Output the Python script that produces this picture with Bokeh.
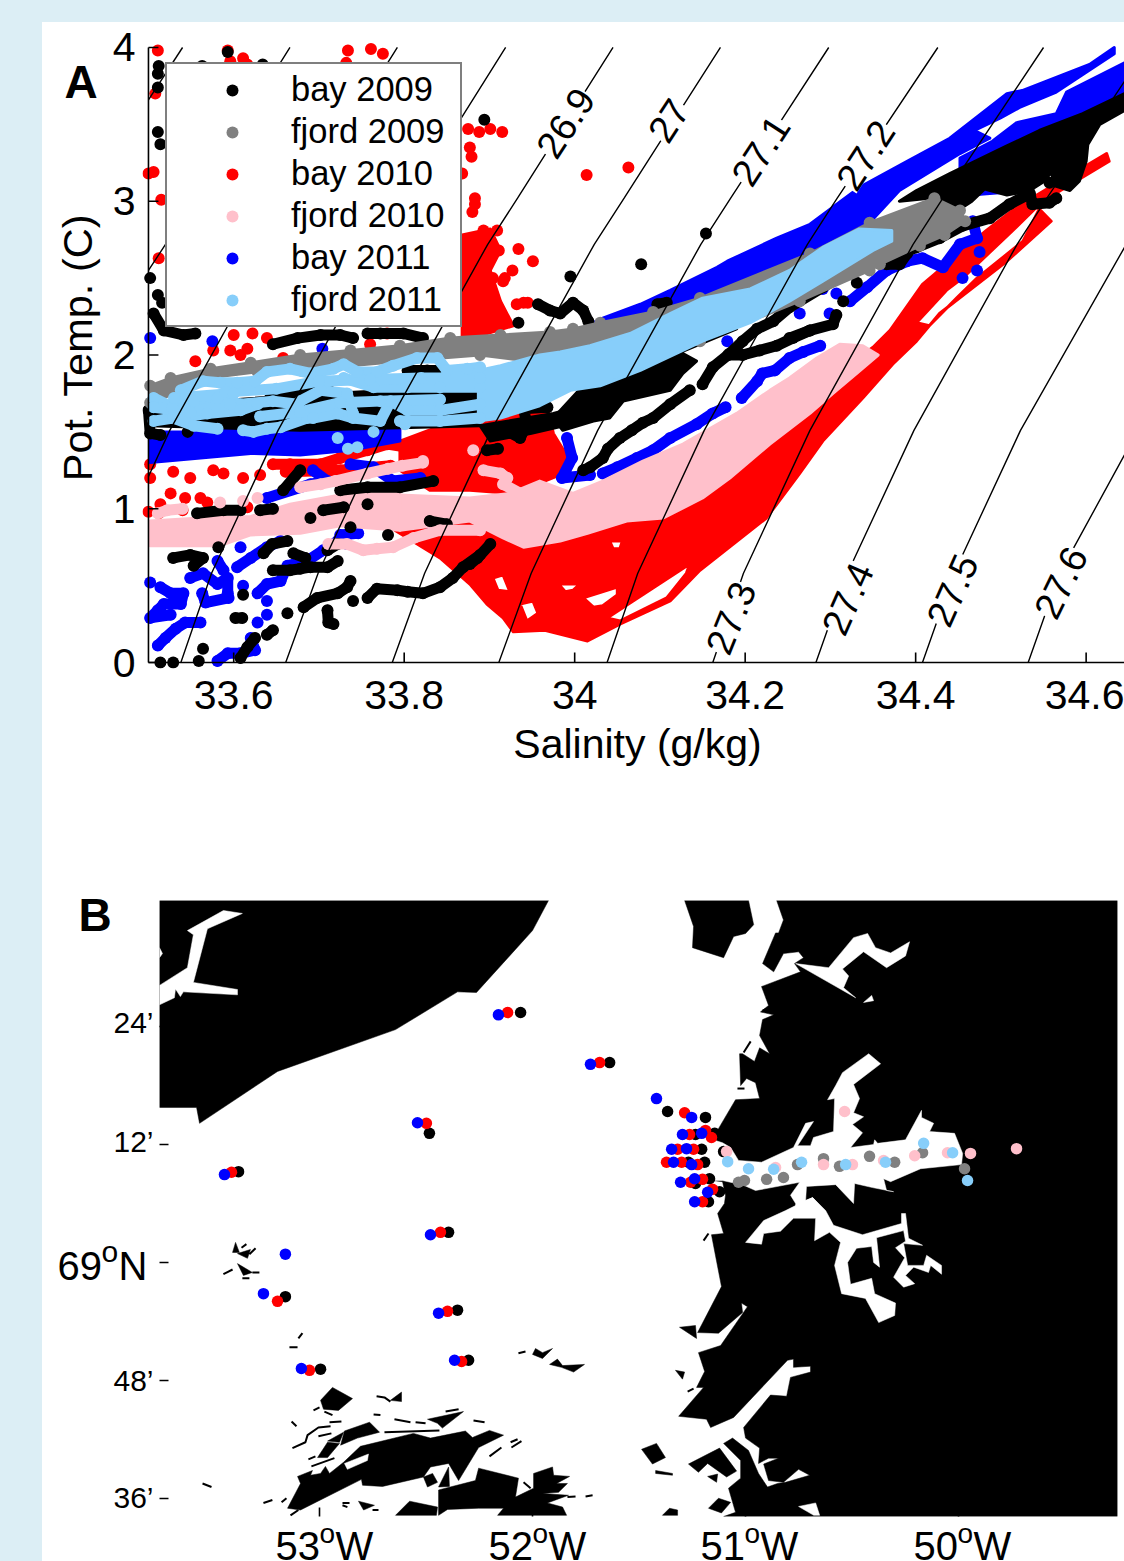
from bokeh.plotting import figure
from bokeh.models import Label, Legend, LegendItem, FixedTicker, Div
from bokeh.embed import file_html
from bokeh.resources import INLINE

# ---------- Panel A: temperature-salinity data ----------
series_names = ["bay 2009", "fjord 2009", "bay 2010", "fjord 2010", "bay 2011", "fjord 2011"]
salinity_ticks = [33.6, 33.8, 34.0, 34.2, 34.4, 34.6]
salinity_tick_labels = ["33.6", "33.8", "34", "34.2", "34.4", "34.6"]
temperature_ticks = [0, 1, 2, 3, 4]

# filled bands where the casts overlap completely
bay09_bands = [
    [(34.645,3.70),(34.596,3.57),(34.545,3.46),(34.507,3.36),(34.44,3.18),(34.401,3.07),(34.381,3.00),(34.416,3.02),(34.452,2.95),(34.466,3.00),(34.481,3.08),(34.507,3.04),(34.534,3.07),(34.551,3.13),(34.559,3.19),(34.563,3.10),(34.581,3.07),(34.592,3.13),(34.60,3.26),(34.602,3.37),(34.616,3.50),(34.645,3.59)],
    [(34.19,2.17),(34.127,2.07),(34.12,2.03),(34.143,1.96),(34.127,1.88),(34.112,1.77),(34.057,1.70),(34.041,1.59),(34.022,1.57),(33.986,1.51),(33.975,1.59),(34.015,1.83),(34.073,1.90)],
    [(33.502,1.67),(33.678,1.74),(33.889,1.80),(33.889,1.54),(33.678,1.51),(33.502,1.54)],
    [(33.889,1.54),(33.975,1.62),(34.03,1.70),(34.041,1.62),(33.995,1.55),(33.948,1.49),(33.901,1.44)],
]
bay09_tracks = [
    [(34.565,3.02),(34.557,2.99),(34.537,2.98),(34.534,3.05),(34.51,2.98),(34.487,2.89),(34.455,2.84),(34.428,2.76),(34.401,2.70),(34.37,2.63),(34.331,2.59),(34.291,2.44),(34.252,2.31),(34.233,2.22),(34.214,2.17),(34.197,2.09),(34.182,2.01),(34.162,1.92),(34.15,1.81)],
    [(34.366,2.59),(34.381,2.59),(34.39,2.66)],
    [(34.252,2.11),(34.276,2.16),(34.303,2.20),(34.307,2.26)],
    [(34.276,2.16),(34.256,2.11),(34.237,2.06),(34.217,2.03),(34.197,2.0),(34.18,2.0)],
    [(34.135,1.77),(34.112,1.68),(34.092,1.59),(34.08,1.56),(34.067,1.51),(34.053,1.46),(34.039,1.39),(34.033,1.33),(34.018,1.27),(34.01,1.25)],
    [(33.913,1.53),(33.936,1.46),(33.944,1.55),(33.94,1.65),(33.968,1.66)],
    [(33.897,1.38),(33.91,1.39)],
    [(33.94,1.90),(33.971,1.94),(33.986,1.98)],
    [(33.957,2.33),(33.971,2.29),(33.983,2.27),(33.998,2.34),(34.01,2.29),(34.016,2.22)],
    [(34.097,2.33),(34.108,2.34)],
    [(33.901,.77),(33.886,.68),(33.877,.64)],
    [(33.506,2.27),(33.518,2.16),(33.541,2.13),(33.555,2.14)],
    [(33.646,2.07),(33.675,2.11),(33.702,2.13),(33.725,2.13),(33.74,2.11)],
    [(33.757,2.14),(33.772,2.14),(33.799,2.14),(33.822,2.11)],
    [(33.50,1.64),(33.502,1.49),(33.514,1.48)],
    [(33.643,1.75),(33.675,1.77),(33.71,1.79)],
    [(33.804,1.90),(33.827,1.90),(33.842,1.90)],
    [(33.799,1.74),(33.842,1.72),(33.889,1.72)],
    [(33.678,1.25),(33.658,1.12)],
    [(33.725,1.12),(33.757,1.14),(33.795,1.14),(33.834,1.18)],
    [(33.557,.97),(33.588,.99),(33.608,.99)],
    [(33.631,.99),(33.646,1.0)],
    [(33.705,.99),(33.729,1.01)],
    [(33.83,.92),(33.85,.90)],
    [(33.529,.68),(33.549,.70),(33.564,.68),(33.553,.63)],
    [(33.635,.71),(33.645,.77),(33.663,.79)],
    [(33.67,.71),(33.684,.68)],
    [(33.71,.73),(33.722,.77)],
    [(33.722,.66),(33.71,.62),(33.69,.62),(33.678,.61),(33.666,.60),(33.646,.60)],
    [(33.602,.29),(33.61,.29)],
    [(33.682,.36),(33.698,.42),(33.722,.45),(33.733,.49),(33.737,.53)],
    [(33.71,.34),(33.711,.26),(33.717,.25)],
    [(33.757,.42),(33.768,.48),(33.792,.47),(33.804,.46),(33.822,.45),(33.842,.49),(33.857,.55),(33.869,.62),(33.889,.70)],
    [(33.646,.21),(33.639,.18)],
    [(33.625,.16),(33.616,.10),(33.608,.03)],
]
bay09_dots = [(34.331,2.47),(34.315,2.35),(34.557,3.12),(33.934,2.21),(33.995,2.51),(34.078,2.59),(34.154,2.79),(33.546,1.50),(33.628,1.59),(33.69,.94),(33.737,.88),(33.757,1.03),(33.582,.75),(33.611,.44),(33.663,.32),(33.74,.40),(33.564,.09),(33.559,.01),(33.529,0.0),(33.514,0.0),(33.781,.83),(33.593,3.97),(33.512,3.88),(33.511,3.83),(33.511,3.74),(33.563,3.88),(33.634,3.89),(33.511,3.45),(33.514,3.37),(33.502,2.50),(33.511,2.39),(33.516,2.34),(33.894,3.53)]

fjord09_bands = [
    [(33.502,1.80),(33.526,1.85),(33.573,1.91),(33.62,1.95),(33.678,2.0),(33.737,2.03),(33.795,2.06),(33.854,2.11),(33.913,2.13),(33.971,2.15),(33.998,2.17),(34.03,2.21),(34.092,2.28),(34.147,2.37),(34.276,2.66),(34.346,2.86),(34.422,3.02),(34.452,2.94),(34.458,2.87),(34.434,2.78),(34.405,2.71),(34.358,2.59),(34.346,2.55),(34.264,2.35),(34.147,2.09),(34.03,1.95),(33.959,1.95),(33.889,2.0),(33.795,1.96),(33.737,1.93),(33.678,1.90),(33.628,1.89),(33.569,1.85),(33.541,1.77),(33.502,1.69)],
]

bay10_outline = [(33.789,.86),(33.842,.68),(33.877,.51),(33.897,.38),(33.916,.29),(33.928,.20),(33.965,.21),(34.015,.14),(34.053,.25),(34.112,.40),(34.147,.60),(34.225,.94),(34.264,1.23),(34.291,1.44),(34.338,1.72),(34.373,1.94),(34.401,2.09),(34.428,2.27),(34.507,2.61),(34.559,2.87),(34.545,2.95),(34.526,2.74),(34.472,2.50),(34.448,2.37),(34.416,2.19),(34.401,2.21),(34.436,2.42),(34.455,2.50),(34.514,2.81),(34.549,3.0),(34.627,3.26),(34.624,3.31),(34.518,2.96),(34.483,2.81),(34.408,2.46),(34.37,2.16),(34.35,2.05),(34.288,1.80),(34.217,1.51),(34.147,1.18),(34.03,.92),(33.913,.92),(33.795,.99)]
bay10_holes = [
    [(33.981,.51),(34.006,.51),(33.998,.47),(33.989,.46)],
    [(34.01,.42),(34.05,.49),(34.05,.44),(34.033,.37),(34.022,.36)],
    [(34.038,.29),(34.135,.64),(34.131,.58),(34.108,.42),(34.053,.27)],
    [(34.041,.79),(34.056,.79),(34.053,.74),(34.045,.74)],
    [(33.936,.38),(33.951,.40),(33.957,.32),(33.944,.27)],
    [(33.904,.55),(33.916,.57),(33.924,.46),(33.91,.47)],
]
bay10_bands = [
    [(33.795,1.44),(33.877,1.61),(33.909,1.61),(33.968,1.66),(33.975,1.49),(33.997,1.29),(33.983,1.22),(33.956,1.16),(33.924,1.10),(33.877,1.12),(33.83,1.12),(33.795,1.25)],
    [(33.868,2.78),(33.901,2.82),(33.913,2.68),(33.901,2.55),(33.913,2.35),(33.928,2.19),(33.868,2.09)],
]
bay10_tracks = [
    [(33.646,1.29),(33.666,1.29),(33.702,1.29),(33.725,1.33),(33.757,1.38),(33.78,1.42),(33.804,1.40),(33.842,1.42),(33.881,1.49)],
    [(33.661,1.24),(33.725,1.25),(33.784,1.28)],
]
bay10_dots = [(33.511,3.98),(33.508,3.70),(33.50,3.18),(33.506,3.19),(33.515,3.01),(33.512,2.63),(33.593,3.98),(33.596,3.91),(33.611,3.93),(33.616,3.89),(33.734,3.98),(33.761,3.99),(33.775,3.96),(33.732,3.90),(33.875,3.47),(33.888,3.45),(33.901,3.47),(33.915,3.45),(33.877,3.35),(33.879,3.29),(33.868,3.18),(33.883,3.02),(33.883,2.98),(33.88,2.93),(33.911,2.68),(33.934,2.69),(33.951,2.61),(33.927,2.55),(33.904,2.50),(33.918,2.50),(33.94,2.34),(33.932,2.33),(33.945,2.34),(34.014,3.17),(34.063,3.22),(33.893,2.81),(33.909,2.81),(33.916,2.48),(33.502,1.29),(33.502,1.20),(33.529,1.24),(33.549,1.20),(33.576,1.25),(33.588,1.23),(33.611,1.20),(33.631,1.22),(33.526,1.10),(33.543,1.07),(33.561,1.07),(33.569,1.04),(33.50,.98),(33.514,1.03),(33.512,.97),(33.54,.99),(33.616,1.01),(33.555,1.96),(33.576,2.03),(33.596,2.03),(33.616,2.04),(33.608,2.0),(33.60,2.13),(33.658,1.98),(33.622,2.14),(33.639,2.11),(33.76,2.07),(33.78,2.14)]

fjord10_bands = [
    [(34.356,2.0),(34.338,2.06),(34.311,2.07),(34.284,1.98),(34.252,1.85),(34.229,1.77),(34.19,1.62),(34.127,1.42),(34.08,1.31),(34.033,1.18),(33.998,1.10),(33.959,1.18),(33.924,1.10),(33.877,1.07),(33.795,1.09),(33.795,.86),(33.877,.92),(33.916,.81),(33.94,.75),(33.983,.79),(34.015,.84),(34.061,.92),(34.104,.94),(34.15,1.07),(34.182,1.20),(34.229,1.42),(34.276,1.62),(34.303,1.75),(34.335,1.90)],
    [(33.502,.92),(33.561,.94),(33.62,.95),(33.666,1.03),(33.725,1.09),(33.795,1.12),(33.795,.86),(33.725,.89),(33.678,.84),(33.62,.83),(33.584,.76),(33.502,.76)],
]
fjord10_tracks = [
    [(33.678,1.14),(33.702,1.16),(33.719,1.18),(33.757,1.23),(33.781,1.26),(33.798,1.28),(33.822,1.30)],
    [(33.511,.97),(33.522,.99),(33.54,1.0)],
    [(33.711,.77),(33.733,.77),(33.752,.73),(33.768,.74),(33.787,.75),(33.811,.81),(33.842,.86),(33.889,.86)],
    [(33.893,1.25),(33.913,1.23),(33.921,1.20),(33.916,1.16),(33.936,1.10)],
]
fjord10_dots = [(33.881,1.38),(33.822,1.31),(33.584,1.04),(33.611,1.05),(33.628,1.07)]

bay11_bands = [
    [(33.502,1.50),(33.549,1.50),(33.608,1.54),(33.666,1.54),(33.713,1.57),(33.76,1.54),(33.786,1.54),(33.795,1.51),(33.795,1.44),(33.737,1.38),(33.678,1.35),(33.62,1.36),(33.561,1.33),(33.502,1.30)],
    [(34.003,2.16),(34.033,2.24),(34.077,2.33),(34.112,2.42),(34.167,2.57),(34.179,2.61),(34.237,2.76),(34.276,2.85),(34.334,3.09),(34.39,3.26),(34.44,3.41),(34.507,3.70),(34.525,3.72),(34.604,3.89),(34.633,4.0),(34.633,3.96),(34.565,3.71),(34.522,3.61),(34.499,3.54),(34.469,3.46),(34.487,3.41),(34.452,3.31),(34.428,3.23),(34.381,3.07),(34.346,2.86),(34.264,2.63),(34.147,2.35),(34.077,2.22),(34.003,2.09)],
    [(34.645,3.90),(34.577,3.71),(34.565,3.57),(34.518,3.51),(34.49,3.39),(34.452,3.28),(34.452,3.13),(34.545,3.33),(34.645,3.62)],
]
bay11_tracks = [
    [(34.033,1.23),(34.05,1.27),(34.073,1.33),(34.092,1.38),(34.112,1.46),(34.143,1.55),(34.162,1.62),(34.177,1.66)],
    [(34.196,1.72),(34.214,1.83),(34.22,1.88),(34.235,1.90),(34.252,1.98),(34.268,2.02),(34.288,2.06)],
    [(34.467,2.87),(34.472,2.76),(34.452,2.72),(34.432,2.57),(34.408,2.63),(34.39,2.61),(34.366,2.55),(34.343,2.44),(34.323,2.35)],
    [(33.511,.11),(33.52,.16),(33.532,.22),(33.543,.26),(33.561,.26)],
    [(33.514,.49),(33.526,.45),(33.541,.45),(33.538,.38),(33.518,.38),(33.511,.34),(33.502,.29),(33.526,.31)],
    [(33.549,.55),(33.564,.58),(33.581,.51),(33.593,.55),(33.593,.45),(33.594,.42),(33.567,.39),(33.563,.45)],
    [(33.581,.66),(33.588,.60)],
    [(33.604,.62),(33.62,.68),(33.639,.75),(33.655,.79)],
    [(33.628,.45),(33.639,.51),(33.655,.53),(33.663,.63),(33.686,.66),(33.705,.73),(33.722,.79),(33.733,.77)],
    [(33.581,.01),(33.593,.06),(33.608,.06),(33.625,.08),(33.62,.16)],
    [(33.725,.83),(33.746,.84)],
    [(33.804,.92),(33.827,.91)],
    [(33.639,1.07),(33.69,1.16),(33.71,1.18),(33.693,1.25)],
    [(33.737,1.29),(33.764,1.27),(33.787,1.18),(33.819,1.20)],
    [(33.991,1.46),(33.997,1.33),(33.985,1.20),(34.018,1.22)],
    [(34.472,3.07),(34.516,3.09),(34.54,3.17)],
]
bay11_dots = [(34.264,2.27),(34.299,2.27),(34.179,2.09),(34.331,2.55),(34.475,2.67),(34.472,2.55),(34.455,2.50),(34.303,2.50),(34.291,2.43),(34.307,2.40),(33.502,.52),(33.608,.75),(33.611,.50),(33.639,.40),(33.639,.31),(33.628,.26),(33.502,2.11),(33.575,2.09),(33.704,2.04)]

fjord11_bands = [
    [(34.372,2.81),(34.334,2.82),(34.291,2.70),(34.252,2.55),(34.206,2.43),(34.15,2.37),(34.112,2.27),(34.065,2.14),(34.018,2.06),(33.983,2.02),(33.959,2.0),(33.913,1.93),(33.887,1.90),(33.887,1.57),(33.913,1.59),(33.959,1.67),(33.995,1.77),(34.03,1.80),(34.077,1.90),(34.10,1.96),(34.15,2.09),(34.206,2.21),(34.252,2.35),(34.291,2.48),(34.35,2.68),(34.372,2.74)],
]
fjord11_tracks = [
    [(33.538,1.77),(33.564,1.83),(33.584,1.82),(33.604,1.82),(33.625,1.83),(33.639,1.89),(33.666,1.91),(33.69,1.88),(33.717,1.91),(33.729,1.94),(33.745,1.89),(33.768,1.89),(33.787,1.93),(33.815,1.98),(33.839,1.98),(33.85,1.90),(33.874,1.91),(33.889,1.92)],
    [(33.506,1.72),(33.528,1.66),(33.553,1.70),(33.581,1.72),(33.608,1.68),(33.646,1.70),(33.675,1.68)],
    [(33.506,1.57),(33.529,1.59),(33.569,1.62),(33.608,1.64),(33.628,1.68)],
    [(33.529,1.59),(33.553,1.54),(33.581,1.52)],
    [(33.611,1.51),(33.623,1.50),(33.639,1.52),(33.655,1.53),(33.686,1.59),(33.693,1.59),(33.722,1.62),(33.74,1.59),(33.772,1.57),(33.784,1.70),(33.804,1.64),(33.842,1.64),(33.889,1.68)],
    [(33.678,1.70),(33.702,1.77),(33.733,1.75),(33.74,1.62)],
    [(33.729,1.85),(33.764,1.79),(33.804,1.79),(33.842,1.79),(33.889,1.79)],
    [(33.506,1.66),(33.549,1.63),(33.596,1.68)],
    [(33.631,1.60),(33.678,1.63),(33.725,1.69),(33.772,1.70),(33.842,1.71)],
    [(33.795,1.57),(33.842,1.57),(33.889,1.59)],
    [(33.59,1.76),(33.65,1.78),(33.70,1.83),(33.76,1.84),(33.82,1.85),(33.889,1.85)],
    [(33.53,1.72),(33.60,1.75)],
]
fjord11_dots = [(33.722,1.46),(33.734,1.39),(33.745,1.40),(33.764,1.50),(33.801,1.55)]

# density contours: name, (salinity, temperature) vertices
contours = {
    "26.5": [(33.50,3.66),(33.54,4.0)],
    "26.6": [(33.50,2.55),(33.52,2.72),(33.555,3.02),(33.666,4.0)],
    "26.7": [(33.50,1.21),(33.525,1.51),(33.646,2.72),(33.681,3.02),(33.792,4.0)],
    "26.8": [(33.538,0),(33.574,.58),(33.652,1.51),(33.773,2.72),(33.808,3.02),(33.919,4.0)],
    "26.9": [(33.661,0),(33.699,.58),(33.777,1.51),(33.898,2.72),(33.933,3.02),(34.045,4.0)],
    "27":   [(33.786,0),(33.824,.58),(33.902,1.51),(34.023,2.72),(34.058,3.02),(34.171,4.0)],
    "27.1": [(33.911,0),(33.949,.58),(34.027,1.51),(34.148,2.72),(34.183,3.02),(34.298,4.0)],
    "27.2": [(34.038,0),(34.074,.58),(34.152,1.51),(34.273,2.72),(34.308,3.02),(34.426,4.0)],
    "27.3": [(34.162,0),(34.198,.58),(34.276,1.51),(34.397,2.72),(34.432,3.02),(34.55,4.0)],
    "27.4": [(34.283,0),(34.32,.58),(34.398,1.51),(34.519,2.72),(34.554,3.02),(34.645,3.78)],
    "27.5": [(34.408,0),(34.445,.58),(34.523,1.51),(34.645,2.70)],
    "27.6": [(34.532,0),(34.569,.58),(34.645,1.35)],
}
contour_labels = [("26.9",33.989,3.51,57),("27",34.11,3.525,57),("27.1",34.218,3.33,57),("27.2",34.341,3.30,57),("27.3",34.183,.29,68),("27.4",34.32,.415,66),("27.5",34.443,.47,66),("27.6",34.57,.52,64)]

# ---------- Panel B: coastline and stations (lon, lat) ----------
west_land = [(-53.751,69.614),(-51.925,69.614),(-52.0,69.563),(-52.263,69.458),(-52.352,69.459),(-52.643,69.395),(-53.197,69.324),(-53.563,69.236),(-53.577,69.263),(-53.751,69.263)]
north_island = [(-51.286,69.614),(-50.986,69.614),(-50.962,69.573),(-51.0,69.558),(-51.056,69.553),(-51.103,69.517),(-51.249,69.534),(-51.244,69.57)]
east_land = [(-50.854,69.614),(-49.254,69.614),(-49.254,68.569),(-51.103,68.569),(-51.047,68.576),(-51.08,68.617),(-51.023,68.634),(-51.023,68.664),(-51.103,68.693),(-51.061,68.702),(-50.986,68.681),(-50.939,68.642),(-50.897,68.619),(-50.85,68.625),(-50.812,68.627),(-50.699,68.639),(-50.751,68.649),(-50.822,68.627),(-50.892,68.63),(-50.915,68.658),(-50.845,68.668),(-50.892,68.668),(-50.939,68.659),(-50.934,68.685),(-51.0,68.702),(-51.009,68.72),(-50.883,68.775),(-50.807,68.773),(-50.789,68.805),(-50.695,68.814),(-50.695,68.824),(-50.775,68.822),(-50.775,68.836),(-50.803,68.834),(-51.056,68.737),(-51.164,68.72),(-51.183,68.734),(-51.314,68.739),(-51.197,68.788),(-51.23,68.788),(-51.192,68.815),(-51.221,68.847),(-51.117,68.859),(-50.991,68.925),(-51.019,68.931),(-51.014,68.915),(-51.127,68.88),(-51.225,68.881),(-51.113,68.959),(-51.16,69.047),(-51.103,69.049),(-51.131,69.083),(-51.099,69.10),(-51.094,69.114),(-51.108,69.137),(-51.155,69.139),(-51.155,69.215),(-51.127,69.227),(-51.047,69.276),(-50.934,69.278),(-50.953,69.305),(-50.995,69.312),(-51.023,69.30),(-51.028,69.354),(-51.014,69.354),(-50.958,69.341),(-50.934,69.364),(-50.887,69.354),(-50.934,69.385),(-50.92,69.412),(-50.868,69.42),(-50.93,69.425),(-50.892,69.436),(-50.925,69.468),(-50.742,69.493),(-50.77,69.507),(-50.728,69.517),(-50.751,69.527),(-50.822,69.524),(-50.868,69.493),(-50.92,69.507),(-50.859,69.559),(-50.845,69.559),(-50.822,69.581)]
land_polygons = [
    [(-51.31,68.89),(-51.235,68.893),(-51.23,68.871)],
    [(-51.329,68.817),(-51.286,68.814),(-51.296,68.802)],
    [(-51.488,68.683),(-51.418,68.693),(-51.376,68.669),(-51.437,68.658)],
    [(-51.268,68.658),(-51.122,68.685),(-51.042,68.646),(-51.089,68.636),(-51.178,68.659),(-51.221,68.644)],
    [(-51.422,68.647),(-51.343,68.642),(-51.343,68.639),(-51.422,68.642)],
    [(-51.178,68.637),(-51.131,68.641),(-51.136,68.627)],
    [(-51.174,68.583),(-51.127,68.60),(-51.07,68.593),(-51.113,68.575)],
    [(-51.39,68.571),(-51.357,68.583),(-51.319,68.58),(-51.319,68.571)],
    [(-53.408,69.017),(-53.394,69.034),(-53.376,69.017)],
    [(-53.385,69.015),(-53.324,69.022),(-53.338,69.007)],
    [(-53.385,68.998),(-53.315,68.983),(-53.357,68.978)],
    [(-52.0,68.844),(-51.986,68.854),(-51.953,68.847),(-51.906,68.854),(-51.953,68.837)],
    [(-51.92,68.827),(-51.883,68.836),(-51.859,68.825),(-51.756,68.827),(-51.807,68.814),(-51.864,68.822)],
    [(-52.995,68.766),(-52.939,68.788),(-52.845,68.769),(-52.911,68.749),(-52.981,68.751)],
    [(-52.667,68.766),(-52.615,68.78),(-52.615,68.764)],
    [(-52.493,68.734),(-52.324,68.747),(-52.423,68.719),(-52.446,68.727)],
    [(-52.962,68.697),(-52.887,68.712),(-52.906,68.695)],
    [(-52.901,68.69),(-52.883,68.714),(-52.765,68.729),(-52.718,68.712),(-52.822,68.702)],
    [(-53.009,68.669),(-52.962,68.695),(-52.906,68.693),(-52.962,68.669)],
    [(-52.887,68.661),(-52.808,68.688),(-52.559,68.71),(-52.479,68.702),(-52.315,68.714),(-52.282,68.703),(-52.202,68.715),(-52.136,68.707),(-52.253,68.686),(-52.347,68.63),(-52.394,68.659),(-52.479,68.653),(-52.512,68.636),(-52.704,68.62),(-52.798,68.622),(-52.803,68.632),(-53.089,68.58),(-53.15,68.583),(-53.089,68.625),(-53.103,68.637),(-53.033,68.647),(-53.042,68.639),(-52.995,68.642),(-52.972,68.654),(-52.953,68.642)],
    [(-52.441,68.619),(-52.394,68.653),(-52.39,68.62)],
    [(-52.512,68.636),(-52.469,68.642),(-52.446,68.627),(-52.493,68.619)],
    [(-52.441,68.614),(-52.268,68.63),(-52.253,68.651),(-52.066,68.634),(-52.08,68.602),(-51.995,68.617),(-51.995,68.642),(-51.906,68.653),(-51.901,68.639),(-51.826,68.637),(-51.887,68.625),(-51.836,68.625),(-51.878,68.61),(-51.953,68.608),(-51.831,68.605),(-51.93,68.592),(-51.859,68.585),(-51.84,68.571),(-52.164,68.571),(-52.136,68.583),(-52.253,68.583),(-52.399,68.581),(-52.441,68.571)],
    [(-52.643,68.571),(-52.577,68.595),(-52.446,68.585),(-52.451,68.571)],
    [(-52.817,68.595),(-52.742,68.588),(-52.793,68.58)],
]
land_dashes = [
    [(-53.451,68.98),(-53.408,68.988)],[(-53.366,69.025),(-53.343,69.031)],[(-53.329,69.014),(-53.30,69.024)],
    [(-53.315,68.983),(-53.282,68.983)],[(-53.362,68.973),(-53.329,68.973)],[(-53.099,68.871),(-53.08,68.88)],
    [(-53.141,68.856),(-53.103,68.856)],[(-52.066,68.846),(-52.033,68.849)],[(-52.732,68.773),(-52.695,68.771),(-52.667,68.764)],
    [(-53.028,68.749),(-53.0,68.754)],[(-52.977,68.747),(-52.939,68.741)],[(-52.746,68.742),(-52.714,68.741)],
    [(-52.648,68.734),(-52.573,68.729)],[(-52.549,68.729),(-52.502,68.727)],[(-52.408,68.747),(-52.347,68.751)],
    [(-52.277,68.732),(-52.225,68.729)],[(-52.953,68.729),(-52.897,68.73)],[(-53.131,68.73),(-53.108,68.722)],
    [(-53.127,68.685),(-53.066,68.695),(-53.056,68.707),(-53.005,68.72),(-52.948,68.722)],[(-53.005,68.705),(-52.944,68.71)],
    [(-52.695,68.712),(-52.437,68.715)],[(-53.052,68.666),(-53.019,68.671)],[(-53.038,68.654),(-52.93,68.668)],
    [(-51.751,68.603),(-51.718,68.605)],[(-51.836,68.602),(-51.798,68.603)],[(-52.042,68.627),(-52.009,68.617)],
    [(-53.263,68.592),(-53.221,68.597)],[(-53.178,68.593),(-53.155,68.60)],[(-53.549,68.625),(-53.507,68.619)],
    [(-53.136,68.571),(-53.099,68.58)],[(-52.892,68.592),(-52.859,68.592)],[(-52.892,68.588),(-52.869,68.585)],
    [(-52.751,68.58),(-52.723,68.58)],[(-52.103,68.695),(-52.07,68.70)],[(-52.099,68.686),(-52.052,68.697)],
    [(-52.202,68.671),(-52.146,68.686)],[(-50.92,69.427),(-50.892,69.432)],[(-51.009,69.356),(-50.976,69.375)],
    [(-51.038,69.295),(-51.005,69.295)],[(-51.272,68.781),(-51.244,68.786)],[(-51.197,69.037),(-51.174,69.049)],
]
water_polygons = [
    [(-53.62,69.563),(-53.451,69.597),(-53.362,69.592),(-53.526,69.566),(-53.592,69.475),(-53.385,69.463),(-53.385,69.454),(-53.639,69.459),(-53.653,69.451),(-53.676,69.464),(-53.681,69.449),(-53.751,69.437),(-53.751,69.47),(-53.62,69.50),(-53.592,69.556)],
    [(-53.751,69.534),(-53.737,69.524),(-53.751,69.517)],
    [(-50.765,69.507),(-50.61,69.50),(-50.493,69.551),(-50.427,69.558),(-50.39,69.534),(-50.319,69.525),(-50.23,69.544),(-50.249,69.52),(-50.338,69.50),(-50.446,69.527),(-50.545,69.498),(-50.516,69.486),(-50.54,69.466),(-50.483,69.449)],
    [(-50.446,69.441),(-50.408,69.453),(-50.399,69.444)],
    [(-51.211,69.215),(-51.108,69.203),(-51.07,69.195),(-51.033,69.173),(-50.925,69.17),(-50.775,69.195),(-50.718,69.236),(-50.681,69.239),(-50.756,69.198),(-50.695,69.198),(-50.681,69.212),(-50.587,69.222),(-50.582,69.278),(-50.615,69.276),(-50.577,69.30),(-50.545,69.322),(-50.422,69.354),(-50.366,69.337),(-50.493,69.302),(-50.465,69.278),(-50.493,69.254),(-50.446,69.247),(-50.498,69.234),(-50.451,69.22),(-50.507,69.195),(-50.399,69.20),(-50.394,69.208),(-50.38,69.202),(-50.249,69.208),(-50.174,69.258),(-50.174,69.246),(-50.117,69.236),(-50.136,69.222),(-50.019,69.219),(-49.981,69.185),(-49.986,69.166),(-50.178,69.159),(-50.319,69.137),(-50.352,69.142),(-50.338,69.122),(-50.305,69.12),(-50.404,69.127),(-50.488,69.134),(-50.493,69.10),(-50.577,69.132),(-50.714,69.129),(-50.718,69.105),(-50.685,69.11),(-50.624,69.085),(-50.765,69.085),(-50.765,69.10),(-50.789,69.114),(-50.746,69.136),(-50.953,69.122),(-51.009,69.131),(-51.108,69.139),(-51.211,69.139)],
    [(-50.812,69.088),(-50.915,69.071),(-51.0,69.034),(-50.925,69.031),(-50.915,69.049),(-50.836,69.053),(-50.775,69.075),(-50.671,69.075),(-50.676,69.037),(-50.606,69.051),(-50.554,69.034),(-50.582,68.995),(-50.549,68.947),(-50.437,68.939),(-50.375,68.898),(-50.30,68.91),(-50.296,68.931),(-50.394,68.947),(-50.408,68.973),(-50.507,68.963),(-50.521,69.0),(-50.479,69.024),(-50.408,69.027),(-50.399,69.0),(-50.371,68.992),(-50.385,69.042),(-50.258,69.054),(-50.249,69.036),(-50.296,69.025),(-50.253,69.008),(-50.305,68.975),(-50.258,68.958),(-50.206,68.964),(-50.249,68.978),(-50.211,68.992),(-50.141,68.983),(-50.131,68.995),(-50.08,68.98),(-50.08,68.995),(-50.15,69.012),(-50.164,68.995),(-50.239,68.995),(-50.258,69.032),(-50.169,69.029),(-50.235,69.041),(-50.249,69.083),(-50.268,69.083),(-50.268,69.066),(-50.451,69.047),(-50.587,69.063),(-50.624,69.088),(-50.685,69.11),(-50.718,69.105)],
    [(-50.751,68.586),(-50.671,68.592),(-50.652,68.571),(-50.68,68.571)],
    [(-52.883,68.659),(-52.77,68.675),(-52.775,68.664),(-52.869,68.649)],
]
bay09_stations = [(-52.056,69.424),(-51.638,69.339),(-52.484,69.219),(-53.38,69.154),(-52.394,69.051),(-53.16,68.942),(-52.352,68.919),(-52.30,68.834),(-52.995,68.819),(-51.366,69.256),(-51.188,69.246),(-51.235,69.217),(-51.145,69.219),(-51.206,69.192),(-51.268,69.17),(-51.192,69.17),(-51.169,69.142),(-51.235,69.134),(-51.122,69.12),(-51.174,69.103),(-51.103,69.188)]
fjord09_stations = [(-51.033,69.136),(-51.005,69.139),(-50.901,69.141),(-50.822,69.144),(-50.756,69.166),(-50.634,69.176),(-50.559,69.163),(-50.418,69.18),(-50.30,69.17),(-50.169,69.186),(-49.972,69.159)]
bay10_stations = [(-52.117,69.424),(-51.685,69.339),(-52.498,69.236),(-53.413,69.153),(-52.432,69.051),(-53.197,68.934),(-52.399,68.917),(-52.333,68.832),(-53.047,68.817),(-51.286,69.254),(-51.188,69.224),(-51.16,69.212),(-51.263,69.217),(-51.319,69.192),(-51.244,69.192),(-51.371,69.17),(-51.30,69.17),(-51.225,69.166),(-51.258,69.136),(-51.202,69.141),(-51.155,69.124),(-51.202,69.103)]
fjord10_stations = [(-51.089,69.188),(-50.859,69.161),(-50.634,69.166),(-50.498,69.166),(-50.352,69.173),(-50.206,69.181),(-50.052,69.186),(-50.535,69.256),(-49.944,69.185),(-49.728,69.193)]
bay11_stations = [(-52.16,69.42),(-51.728,69.336),(-52.54,69.237),(-53.446,69.149),(-52.479,69.047),(-53.16,69.014),(-53.263,68.947),(-52.441,68.914),(-52.366,68.834),(-53.085,68.82),(-51.418,69.278),(-51.253,69.246),(-51.206,69.219),(-51.296,69.217),(-51.347,69.192),(-51.277,69.193),(-51.338,69.17),(-51.253,69.166),(-51.305,69.136),(-51.239,69.142),(-51.178,69.119),(-51.239,69.103)]
fjord11_stations = [(-51.084,69.171),(-50.986,69.159),(-50.868,69.158),(-50.737,69.17),(-50.53,69.166),(-50.343,69.17),(-50.164,69.202),(-50.028,69.186),(-49.958,69.139)]

lon_ticks = [-53, -52, -51, -50]
lon_tick_numbers = ["53", "52", "51", "50"]
lat_ticks = [68.6, 68.8, 69.0, 69.2, 69.4]
minute_labels = ["36\u2019", "48\u2019", "12\u2019", "24\u2019"]

# ---------- styling ----------
FONT = "Liberation Sans"
BG = "#dceef5"
BLACK, GREY, RED, PINK, BLUE, SKY = "#000000", "#808080", "#ff0000", "#ffc0cb", "#0000ff", "#87cefa"
DOT_A, DOT_B, TRACK_W = 12, 11.5, 11


def lon_of(pairs):
    return [a for a, _ in pairs]


def lat_of(pairs):
    return [b for _, b in pairs]


def draw_bands(p, color, bands):
    p.patches([lon_of(b) for b in bands], [lat_of(b) for b in bands], fill_color=color,
              line_color=color, line_width=3, line_join="round")


def draw_series(p, color, tracks=(), dots=()):
    if tracks:
        p.multi_line([lon_of(t) for t in tracks], [lat_of(t) for t in tracks], line_color=color,
                     line_width=TRACK_W, line_join="round", line_cap="round")
    pts = [q for t in tracks for q in t] + list(dots)
    return p.scatter(lon_of(pts), lat_of(pts), size=DOT_A, marker="circle", fill_color=color, line_color=None)


# ---------- Panel A ----------
pa = figure(width=1082, height=778, x_range=(33.493, 34.645), y_range=(-0.039, 4.039),
            output_backend="svg", toolbar_location=None, min_border_left=100, min_border_right=0,
            min_border_top=19, min_border_bottom=132, border_fill_color="white", outline_line_color=None,
            background_fill_color="white", styles={"position": "absolute", "left": "42px", "top": "22px"})
pa.grid.visible = False

pa.multi_polygons(xs=[[[lon_of(bay10_outline)] + [lon_of(h) for h in bay10_holes]]],
                  ys=[[[lat_of(bay10_outline)] + [lat_of(h) for h in bay10_holes]]],
                  fill_color=RED, line_color=RED, line_width=3, line_join="round")
draw_bands(pa, RED, bay10_bands)
r_red = draw_series(pa, RED, bay10_tracks, bay10_dots)
draw_bands(pa, BLUE, bay11_bands)
r_blue = draw_series(pa, BLUE, bay11_tracks, bay11_dots)
draw_bands(pa, PINK, fjord10_bands)
draw_bands(pa, BLACK, bay09_bands)
r_black = draw_series(pa, BLACK, bay09_tracks, bay09_dots)
draw_bands(pa, GREY, fjord09_bands)
r_grey_pts = pa.scatter(lon_of(fjord09_bands[0]), lat_of(fjord09_bands[0]), size=DOT_A, marker="circle",
                        fill_color=GREY, line_color=None)
r_pink = draw_series(pa, PINK, fjord10_tracks, fjord10_dots)
draw_bands(pa, SKY, fjord11_bands)
r_sky = draw_series(pa, SKY, fjord11_tracks, fjord11_dots)

cnames = list(contours)
pa.multi_line([lon_of(contours[c]) for c in cnames], [lat_of(contours[c]) for c in cnames],
              line_color="black", line_width=1.4)

# axes frame and inward ticks
pa.segment([33.5], [0], [33.5], [4], line_color="black", line_width=1.6)
pa.segment([33.5], [0], [34.645], [0], line_color="black", line_width=1.6)
pa.segment(salinity_ticks, [0] * 6, salinity_ticks, [0.065] * 6, line_color="black", line_width=1.6)
pa.segment([33.5] * 5, temperature_ticks, [33.5117] * 5, temperature_ticks, line_color="black", line_width=1.6)

pa.xaxis.ticker = FixedTicker(ticks=salinity_ticks)
pa.xaxis.major_label_overrides = dict(zip(salinity_ticks, salinity_tick_labels))
pa.yaxis.ticker = FixedTicker(ticks=temperature_ticks)
for ax in (pa.xaxis[0], pa.yaxis[0]):
    ax.axis_line_color = None
    ax.major_tick_line_color = None
    ax.minor_tick_line_color = None
    ax.major_label_text_font = FONT
    ax.major_label_text_font_size = "41px"
    ax.major_label_text_color = "black"
pa.xaxis.major_label_standoff = 6
pa.yaxis.major_label_standoff = 1
pa.yaxis.major_label_orientation = "horizontal"

for txt, s, t, ang in contour_labels:
    pa.add_layout(Label(x=s, y=t, text=txt, angle=ang, angle_units="deg", text_align="center",
                        text_baseline="middle", text_font=FONT, text_font_size="38px", text_color="black",
                        background_fill_color="white", background_fill_alpha=1))

legend = Legend(items=[LegendItem(label=n, renderers=[r]) for n, r in
                       zip(series_names, [r_black, r_grey_pts, r_red, r_pink, r_blue, r_sky])],
                location=(23, 341), orientation="vertical", padding=6, margin=0, spacing=3,
                glyph_width=118, glyph_height=30, label_height=30, label_width=163, label_standoff=0,
                label_text_font=FONT, label_text_font_size="34.5px", label_text_color="black",
                border_line_color="black", border_line_width=2, background_fill_color="white",
                background_fill_alpha=1)
pa.add_layout(legend)

# ---------- Panel B ----------
pb = figure(width=1082, height=761, x_range=(-53.751, -49.254), y_range=(68.569, 69.614),
            output_backend="svg", toolbar_location=None, min_border_left=117, min_border_right=7,
            min_border_top=100, min_border_bottom=45, border_fill_color="white", outline_line_color=None,
            background_fill_color="white", styles={"position": "absolute", "left": "42px", "top": "800px"})
pb.grid.visible = False

land = [west_land, north_island, east_land] + land_polygons
pb.patches([lon_of(g) for g in land], [lat_of(g) for g in land], fill_color="black", line_color="black", line_width=0.5)
pb.patches([lon_of(g) for g in water_polygons], [lat_of(g) for g in water_polygons], fill_color="white", line_color="white", line_width=0.5)
pb.multi_line([lon_of(g) for g in land_dashes], [lat_of(g) for g in land_dashes], line_color="black", line_width=2)

for pts, color in [(bay09_stations, BLACK), (fjord09_stations, GREY), (bay10_stations, RED),
                   (fjord10_stations, PINK), (bay11_stations, BLUE), (fjord11_stations, SKY)]:
    pb.scatter(lon_of(pts), lat_of(pts), size=DOT_B, marker="circle", fill_color=color, line_color=None)

pb.xaxis.ticker = FixedTicker(ticks=lon_ticks)
pb.yaxis.ticker = FixedTicker(ticks=lat_ticks)
pb.xaxis.major_label_overrides = {v: "" for v in lon_ticks}
pb.yaxis.major_label_overrides = {v: "" for v in lat_ticks}
for ax in (pb.xaxis[0], pb.yaxis[0]):
    ax.axis_line_color = None
    ax.major_tick_in = 9
    ax.major_tick_out = 0
    ax.major_tick_line_color = "black"
    ax.major_tick_line_width = 1.6
    ax.minor_tick_line_color = None

# ---------- page texts that lie outside both plot frames ----------
overlay = figure(width=1124, height=1561, x_range=(0, 1124), y_range=(1561, 0), x_axis_location=None,
                 y_axis_location=None, output_backend="svg", toolbar_location=None, min_border=0,
                 border_fill_color=None, background_fill_color=None, outline_line_color=None,
                 styles={"position": "absolute", "left": "0px", "top": "0px"})
overlay.grid.visible = False


def page_text(x, y, text, size, style="normal", align="left", angle=0):
    overlay.add_layout(Label(x=x, y=y, text=text, text_align=align, text_baseline="middle", angle=angle,
                             angle_units="deg", text_font=FONT, text_font_size=size,
                             text_font_style=style, text_color="black"))


page_text(64, 81, "A", "46px", style="bold")
page_text(78, 914, "B", "46px", style="bold")
page_text(637, 743, "Salinity (g/kg)", "41px", align="center")
page_text(77, 347, "Pot. Temp. (C)", "41.5px", align="center", angle=90)
for x0, num in zip([275, 488, 700, 913], lon_tick_numbers):
    page_text(x0, 1545, num, "40px")
    page_text(x0 + 44, 1533, "o", "28px")
    page_text(x0 + 60, 1545, "W", "40px")
page_text(57, 1265, "69", "40px")
page_text(101, 1251, "o", "30px")
page_text(118, 1265, "N", "40px")
for center, txt in zip([1497, 1380, 1141, 1022], minute_labels):
    page_text(113, center, txt, "30px")

strip_left = Div(text="", width=42, height=1561, margin=0,
                 styles={"position": "absolute", "left": "0px", "top": "0px", "background": BG})
strip_top = Div(text="", width=1124, height=22, margin=0,
                styles={"position": "absolute", "left": "0px", "top": "0px", "background": BG})

open("out.html", "w").write(file_html([strip_left, strip_top, pa, pb, overlay], INLINE))
